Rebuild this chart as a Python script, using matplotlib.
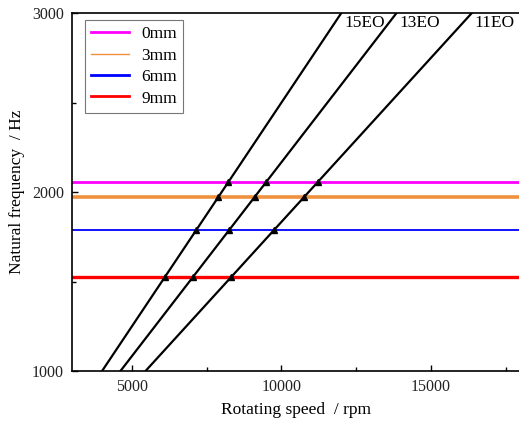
## Campbell diagram: natural frequency vs rotating speed
## plot.py

import numpy as np
from matplotlib import pyplot as plt
from matplotlib.lines import Line2D

# ------------------------------- #
# Data
# ------------------------------- #

# Engine order lines (end points, rpm / Hz)
order_names = ["15EO", "13EO", "11EO"]
order_speed = [[4000, 12000], [4615, 13846], [5454, 16364]]
order_freq = [[1000, 3000], [1000, 3000], [1000, 3000]]

# Natural frequency for each defect depth
depth_names = ["0mm", "3mm", "6mm", "9mm"]
depth_freq = [2056, 1972, 1788, 1525]
depth_colors = ["#ff00ff", "#f0913e", "#0000ff", "#ff0000"]
depth_widths = [2.0, 2.6, 1.3, 2.4]
legend_widths = [2.0, 1.0, 2.0, 2.0]

x_ticks = [5000, 10000, 15000]
y_ticks = [1000, 2000, 3000]

# ------------------------------- #

plt.rcParams['font.family'] = ['Liberation Serif', 'DejaVu Serif']

fig = plt.figure(figsize=(5.19, 4.26), dpi=100)
ax = fig.add_axes([0.139, 0.129, 0.864, 0.840])

# Horizontal natural frequency lines
for f, c, lw in zip(depth_freq, depth_colors, depth_widths):
	ax.axhline(f, color=c, lw=lw, zorder=2)

# Engine order lines and their crossing markers
for name, sp, fr in zip(order_names, order_speed, order_freq):
	ax.plot(sp, fr, color="black", lw=1.6, zorder=3)
	cross_speed = np.interp(depth_freq, fr, sp)
	ax.plot(cross_speed, depth_freq, ls="none", marker="^", ms=4.5,
		color="black", zorder=4)
	ax.text(sp[1] + 100, 2990, name, fontsize=12.5, ha="left", va="top")

ax.set_xlim(3000, 18000)
ax.set_ylim(1000, 3000)
ax.set_xticks(x_ticks)
ax.set_yticks(y_ticks)
ax.set_xticks([7500, 12500, 17500], minor=True)
ax.set_yticks([1500, 2500], minor=True)
ax.tick_params(which="both", direction="in", labelsize=11.5, labelcolor="#222222")
ax.tick_params(which="major", length=4, width=1, pad=6)
ax.tick_params(which="minor", length=3, width=1)
for s in ax.spines.values():
	s.set_linewidth(1.2)
ax.spines["right"].set_visible(False)

ax.set_xlabel("Rotating speed  / rpm", fontsize=12.5, labelpad=5)
ax.set_ylabel("Natural frequency  / Hz", fontsize=12.5, labelpad=5)

handles = [Line2D([], [], color=c, lw=lw) for c, lw in zip(depth_colors, legend_widths)]
leg = ax.legend(handles, depth_names, loc="upper left", bbox_to_anchor=(0.02, 0.99),
	fontsize=12.5, frameon=True, fancybox=False, edgecolor="#555555",
	handlelength=2.2, handletextpad=0.7, borderpad=0.35, labelspacing=0.3,
	borderaxespad=0.2)
leg.get_frame().set_linewidth(0.8)

fig.savefig("out.png", dpi=100)
